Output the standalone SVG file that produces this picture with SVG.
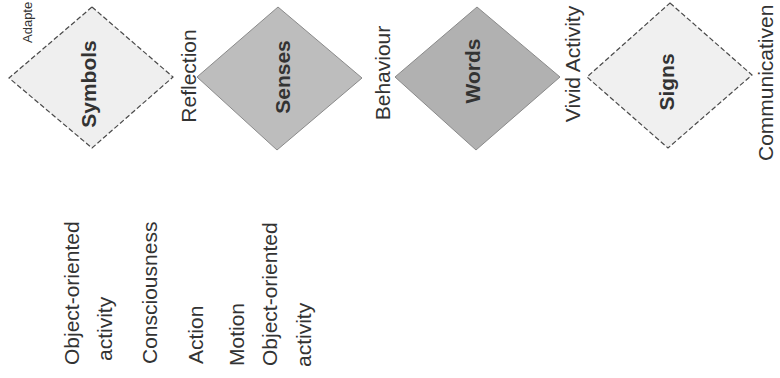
<svg xmlns="http://www.w3.org/2000/svg" width="780" height="378" viewBox="0 0 780 378">
<style>
text{font-family:"Liberation Sans",Arial,sans-serif;fill:#333333;font-size:21px}
.b{font-weight:bold;text-anchor:middle}
.m{text-anchor:middle}
.dash{stroke:#4a4a4a;stroke-width:1.2;stroke-dasharray:5 2.5}
.solid{stroke:#8a8a8a;stroke-width:1}
</style>
<rect width="780" height="378" fill="#ffffff"/>
<g id="note">
<text transform="translate(32,43) rotate(-90)" style="font-size:13px">Adapte</text>
</g>
<g id="symbols">
<polygon class="dash" points="92,7 173,77 92,148 9,78" fill="#efefef"/>
<text class="b" transform="translate(96,84) rotate(-90)">Symbols</text>
</g>
<g id="reflection"><text class="m" transform="translate(196,76) rotate(-90)">Reflection</text></g>
<g id="senses">
<polygon class="solid" points="278,7 362,78 277,150 197,77" fill="#bdbdbd"/>
<text class="b" transform="translate(290,77) rotate(-90)">Senses</text>
</g>
<g id="behaviour"><text class="m" transform="translate(390,73) rotate(-90)">Behaviour</text></g>
<g id="words">
<polygon class="solid" points="477,7 560,77 476,150 395,77" fill="#b1b1b1"/>
<text class="b" transform="translate(480,71) rotate(-90)">Words</text>
</g>
<g id="vivid"><text class="m" transform="translate(580,64) rotate(-90)">Vivid Activity</text></g>
<g id="signs">
<polygon class="dash" points="670,3 752,75 668,148 587,77" fill="#f0f0f0"/>
<text class="b" transform="translate(674,82) rotate(-90)">Signs</text>
</g>
<g id="communicativeness"><text transform="translate(773,161) rotate(-90)">Communicativen</text></g>
<g id="list">
<text transform="translate(79,365) rotate(-90)">Object-oriented</text>
<text transform="translate(112,361) rotate(-90)">activity</text>
<text transform="translate(157,364) rotate(-90)">Consciousness</text>
<text transform="translate(203,364) rotate(-90)">Action</text>
<text transform="translate(244,366) rotate(-90)">Motion</text>
<text transform="translate(277,366) rotate(-90)">Object-oriented</text>
<text transform="translate(311,367) rotate(-90)">activity</text>
</g>
</svg>
